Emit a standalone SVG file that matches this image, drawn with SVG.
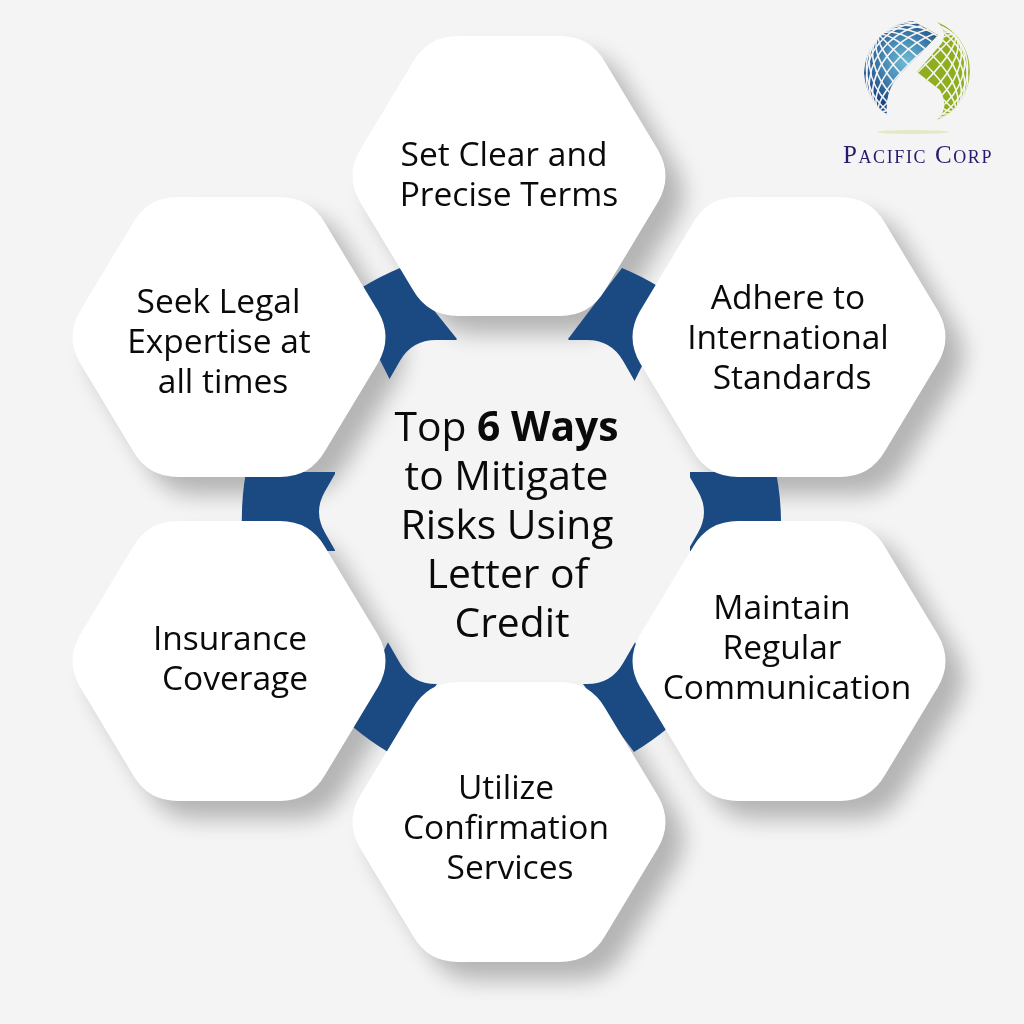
<svg xmlns="http://www.w3.org/2000/svg" width="1024" height="1024" viewBox="0 0 1024 1024">
<style>
.lbl{font-family:"Open Sans","Noto Sans",sans-serif;font-size:33.5px;fill:#0a0a0a;text-anchor:middle}
.ttl{font-family:"Open Sans","Noto Sans",sans-serif;font-size:40.8px;fill:#0a0a0a;text-anchor:middle}
.hex{fill:#fff}
.blue{fill:#1b4a83}
.m{fill:none;stroke:#f4f4f4;stroke-width:1.6}
</style>
<defs>
<path id="h" d="M-51 -140H51Q81 -140 96 -114L149 -26Q164 0 149 26L96 114Q81 140 51 140H-51Q-81 140 -96 114L-149 26Q-164 0 -149 -26L-96 -114Q-81 -140 -51 -140Z"/>
<clipPath id="outC"><path clip-rule="evenodd" d="M0 0H1024V1024H0Z M436 340H587Q611 340 623 360.8L698 491.2Q710 512 698 532.8L623 663.2Q611 684 587 684H436Q412 684 400 663.2L325 532.8Q313 512 325 491.2L400 360.8Q412 340 436 340Z"/></clipPath>
<filter id="blur" x="-30%" y="-30%" width="160%" height="160%"><feGaussianBlur stdDeviation="11"/></filter>
<radialGradient id="gb" gradientUnits="userSpaceOnUse" cx="906" cy="62" r="46"><stop offset="0" stop-color="#72bad6"/><stop offset=".45" stop-color="#4a8fb8"/><stop offset="1" stop-color="#1a4684"/></radialGradient>
<clipPath id="globeC"><path d="M913 21L938 35L898 77Q885 92 887 115A53 53 0 0 1 864 73A53 53 0 0 1 913 21Z"/><path d="M937 22A53 53 0 0 1 937 120Q950 108 940 90L917 72L942 43Q948 30 937 22Z"/></clipPath>
<g id="merid" class="m"><path d="M917 20V126"/><ellipse cx="917" cy="73" rx="12" ry="53"/><ellipse cx="917" cy="73" rx="23.3" ry="53"/><ellipse cx="917" cy="73" rx="33.4" ry="53"/><ellipse cx="917" cy="73" rx="41.7" ry="53"/><ellipse cx="917" cy="73" rx="48" ry="53"/></g>
</defs>
<rect width="1024" height="1024" fill="#f4f4f4"/>
<g id="shadows" filter="url(#blur)" opacity=".26">
<use href="#h" x="527" y="194"/><use href="#h" x="247" y="355"/><use href="#h" x="807" y="355"/><use href="#h" x="247" y="679"/><use href="#h" x="807" y="679"/><use href="#h" x="527" y="840"/>
</g>
<g id="connectors" clip-path="url(#outC)">
<path class="blue" d="M361 288A270 270 0 0 1 400 268L457 339L400 400L370 340Z"/>
<path class="blue" d="M661 288A270 270 0 0 0 622 268L568 339L625 400L655 340Z"/>
<path class="blue" d="M246 472H335V551H300L242 530A270 270 0 0 1 246 472Z"/>
<path class="blue" d="M776 472H690V551H722L781 530A270 270 0 0 0 776 472Z"/>
<path class="blue" d="M353 727A270 270 0 0 0 388 752L437 684L389 640L370 680Z"/>
<path class="blue" d="M669 727A270 270 0 0 1 634 752L583 684L634 640L652 680Z"/>
</g>
<g id="node-center"><text class="ttl" x="506.500" y="441">Top <tspan font-weight="700">6 Ways</tspan></text><text class="ttl" x="506.500" y="490">to Mitigate</text><text class="ttl" x="507" y="539">Risks Using</text><text class="ttl" x="507.500" y="588">Letter of</text><text class="ttl" x="512" y="637">Credit</text></g>
<g id="node-terms"><use class="hex" href="#h" x="509" y="176"/><text class="lbl" x="504" y="166">Set Clear and</text><text class="lbl" x="509" y="206">Precise Terms</text></g>
<g id="node-legal"><use class="hex" href="#h" x="229" y="337"/><text class="lbl" x="218.500" y="313">Seek Legal</text><text class="lbl" x="219" y="353">Expertise at</text><text class="lbl" x="223" y="393">all times</text></g>
<g id="node-standards"><use class="hex" href="#h" x="789" y="337"/><text class="lbl" x="788" y="309">Adhere to</text><text class="lbl" x="788" y="349">International</text><text class="lbl" x="792" y="389">Standards</text></g>
<g id="node-insurance"><use class="hex" href="#h" x="229" y="661"/><text class="lbl" x="230" y="650">Insurance</text><text class="lbl" x="235" y="690">Coverage</text></g>
<g id="node-communication"><use class="hex" href="#h" x="789" y="661"/><text class="lbl" x="782" y="619">Maintain</text><text class="lbl" x="782" y="659">Regular</text><text class="lbl" x="787" y="699">Communication</text></g>
<g id="node-confirmation"><use class="hex" href="#h" x="509" y="822"/><text class="lbl" x="506" y="799">Utilize</text><text class="lbl" x="506" y="839">Confirmation</text><text class="lbl" x="510" y="879">Services</text></g>
<g id="logo">
<g clip-path="url(#globeC)">
<rect x="916" y="15" width="60" height="110" fill="#8fae1f"/>
<path d="M913 21L938 35L898 77Q885 92 887 115A53 53 0 0 1 864 73A53 53 0 0 1 913 21Z" fill="url(#gb)"/>
<use href="#merid" transform="rotate(45 917 73)"/><use href="#merid" transform="rotate(-45 917 73)"/>
</g>
<ellipse cx="913" cy="132" rx="36" ry="2" fill="#e3e9c5"/>
<text x="843" y="163" font-family="Liberation Serif,serif" font-size="25" fill="#2a1a6e" style="font-variant:small-caps;letter-spacing:1.6px">Pacific Corp</text>
</g>
</svg>
